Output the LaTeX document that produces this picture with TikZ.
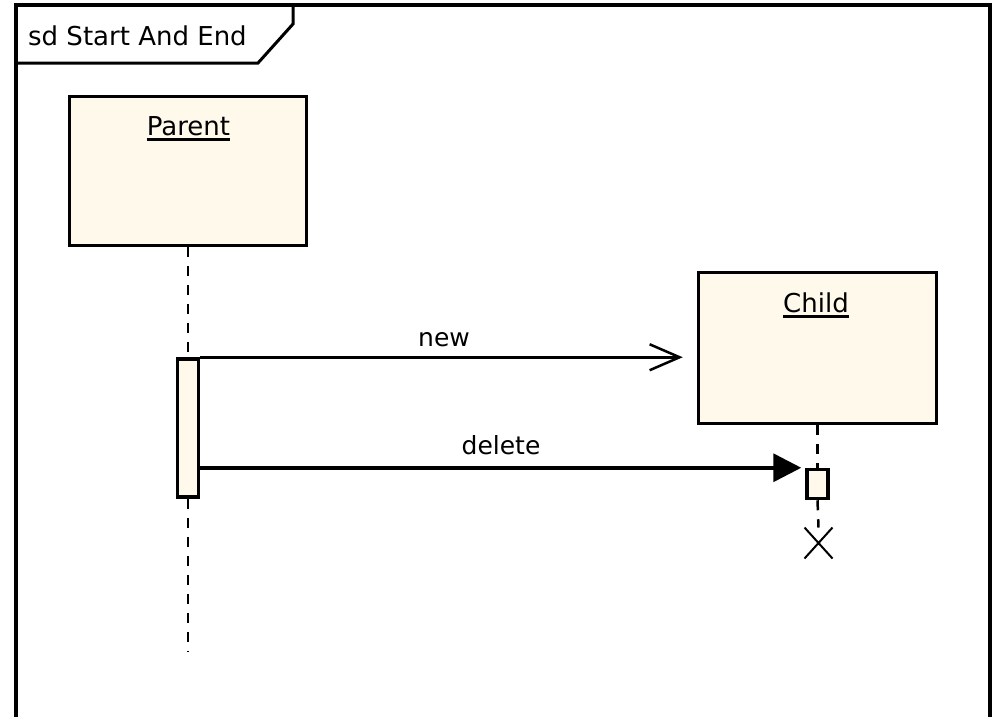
\documentclass[tikz,border=0pt]{standalone}
\usepackage{fontspec}
\setmainfont{DejaVu Sans}
\usetikzlibrary{arrows.meta,shapes.misc}
\definecolor{cream}{RGB}{255,249,236}
\tikzset{
  objbox/.style={draw,line width=3.5pt,fill=cream,inner sep=0pt},
  actbar/.style={draw,line width=3.5pt,fill=cream,inner sep=0pt,minimum width=21pt},
  lifeline/.style={line width=2.5pt,dash pattern=on 10pt off 9pt},
  msg/.style={line width=3.5pt},
  lbl/.style={inner sep=0pt,font=\fontsize{26}{30}\selectfont},
  msglbl/.style={inner sep=0pt,font=\fontsize{25}{30}\selectfont},
}

\begin{document}
\begin{tikzpicture}[x=1pt,y=-1pt]
\useasboundingbox (0,0) rectangle (992,716);
% frame and title tab
\draw [line width=3.5pt] (16,720) |- (990,5) -- (990,720);
\draw [line width=3pt] (16,63) -- (258,63) -- (293,24) -- (293,5);
\node [lbl,anchor=base west] (title) at (28,45) {sd Start And End};
% objects
\node [objbox,minimum width=237pt,minimum height=149pt] (parent) at (188,171) {};
\node [objbox,minimum width=238pt,minimum height=151pt] (child) at (817.5,348) {};
\node [lbl,anchor=base] (pname) at (188.5,135) {Parent};
\node [lbl,anchor=base] (cname) at (816,312) {Child};
\draw [line width=3pt] ([yshift=-4pt]pname.base west) -- ([yshift=-4pt]pname.base east);
\draw [line width=3pt] ([yshift=-4pt]cname.base west) -- ([yshift=-4pt]cname.base east);
% activations
\node [actbar,minimum height=138pt] (pact) at (188,428) {};
\node [actbar,minimum height=29pt] (cact) at (817.5,484) {};
\node [cross out,draw,line width=2pt,inner sep=0pt,minimum width=26pt,minimum height=29pt] (kill) at (818.5,543) {};
\coordinate (pend) at (188,652);
% lifelines
\draw [lifeline] (parent.south) -- (pact.north);
\draw [lifeline] (pact.south) -- (pend);
\draw [lifeline] (child.south) -- (cact.north);
\draw [lifeline] (cact.south) -- (kill.north);
% messages
\draw [msg,-{Straight Barb[length=30pt,width=26pt,line width=2.5pt]}] (pact.north east) -- ([xshift=-14pt]pact.north east -| child.west);
\node [msglbl,anchor=base] (newlbl) at (444,346) {new};
\draw [msg,-{Triangle[length=28pt,width=28pt]}] (pact.east |- cact.north) -- ([xshift=-4pt]cact.north west);
\node [msglbl,anchor=base] (dellbl) at (501,454) {delete};
\end{tikzpicture}
\end{document}
